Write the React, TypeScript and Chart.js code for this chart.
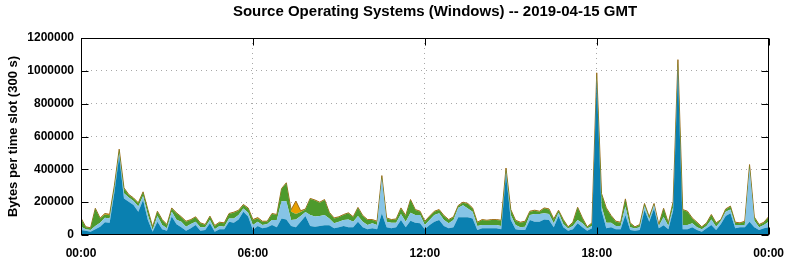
import React, { useEffect, useRef } from 'react';
import { Chart, registerables } from 'chart.js';

Chart.register(...registerables);

const TITLE = 'Source Operating Systems (Windows) -- 2019-04-15 GMT';
const Y_LABEL = 'Bytes per time slot (300 s)';
const X_TICK_HOURS = [0, 6, 12, 18, 24];
const X_TICK_LABELS = ['00:00', '06:00', '12:00', '18:00', '00:00'];
const Y_TICKS = [0, 200000, 400000, 600000, 800000, 1000000, 1200000];
const SLOT_MINUTES = 10;

const darkBlue = [
  30000, 26000, 20000, 35000, 50000, 78000, 75000, 260000, 480000, 223000,
  203000, 183000, 142000, 213000, 91000, 20000, 81000, 35000, 26000, 112000,
  66000, 47000, 26000, 41000, 61000, 26000, 30000, 71000, 20000, 35000,
  35000, 81000, 75000, 95000, 142000, 112000, 30000, 55000, 41000, 47000,
  61000, 47000, 100000, 95000, 55000, 47000, 81000, 115000, 55000, 50000,
  55000, 60000, 60000, 41000, 47000, 55000, 47000, 47000, 81000, 47000,
  35000, 41000, 35000, 132000, 47000, 41000, 47000, 91000, 47000, 87000,
  75000, 71000, 35000, 61000, 81000, 91000, 55000, 41000, 47000, 108000,
  108000, 108000, 101000, 30000, 41000, 41000, 41000, 41000, 35000, 370000,
  91000, 35000, 30000, 30000, 91000, 81000, 81000, 95000, 91000, 47000,
  116000, 47000, 26000, 35000, 71000, 47000, 26000, 41000, 940000, 150000,
  41000, 47000, 35000, 35000, 122000, 30000, 26000, 30000, 152000, 81000,
  162000, 41000, 60000, 35000, 150000, 1000000, 35000, 35000, 47000, 30000,
  20000, 41000, 61000, 30000, 67000, 116000, 132000, 41000, 47000, 47000,
  80000, 47000, 30000, 41000, 47000,
];

const lightBlue = [
  20000, 9000, 10000, 20000, 25000, 27000, 25000, 20000, 20000, 31000,
  26000, 24000, 31000, 24000, 31000, 10000, 35000, 26000, 15000, 30000,
  27000, 34000, 25000, 26000, 20000, 21000, 17000, 20000, 15000, 20000,
  16000, 20000, 26000, 27000, 20000, 24000, 31000, 26000, 20000, 20000,
  30000, 44000, 105000, 110000, 36000, 48000, 35000, 25000, 67000, 62000,
  61000, 62000, 40000, 30000, 34000, 36000, 48000, 34000, 35000, 34000,
  26000, 30000, 26000, 213000, 34000, 34000, 28000, 37000, 34000, 49000,
  47000, 51000, 26000, 30000, 41000, 41000, 36000, 30000, 44000, 58000,
  73000, 54000, 41000, 25000, 20000, 20000, 20000, 20000, 20000, 15000,
  31000, 26000, 17000, 21000, 31000, 47000, 47000, 37000, 37000, 24000,
  20000, 20000, 13000, 20000, 20000, 24000, 13000, 14000, 20000, 25000,
  34000, 28000, 20000, 20000, 51000, 17000, 13000, 17000, 25000, 14000,
  21000, 14000, 50000, 20000, 20000, 30000, 26000, 26000, 24000, 17000,
  15000, 14000, 34000, 21000, 18000, 26000, 24000, 20000, 14000, 14000,
  326000, 40000, 17000, 20000, 34000,
];

const green = [
  50000, 12000, 11000, 105000, 25000, 20000, 20000, 20000, 20000, 30000,
  15000, 16000, 20000, 23000, 30000, 17000, 26000, 30000, 20000, 20000,
  39000, 27000, 30000, 24000, 27000, 24000, 14000, 21000, 20000, 20000,
  20000, 27000, 35000, 26000, 21000, 26000, 30000, 20000, 20000, 14000,
  37000, 31000, 75000, 110000, 51000, 33000, 24000, 15000, 98000, 98000,
  81000, 91000, 35000, 30000, 27000, 31000, 37000, 27000, 49000, 35000,
  30000, 20000, 20000, 14000, 20000, 16000, 20000, 34000, 35000, 77000,
  30000, 20000, 20000, 21000, 20000, 20000, 25000, 20000, 17000, 11000,
  16000, 27000, 20000, 20000, 30000, 26000, 30000, 30000, 32000, 20000,
  30000, 26000, 28000, 30000, 20000, 20000, 14000, 30000, 28000, 24000,
  12000, 24000, 8000, 20000, 75000, 30000, 8000, 16000, 25000, 75000,
  87000, 41000, 26000, 20000, 44000, 24000, 8000, 14000, 12000, 13000,
  6000, 6000, 50000, 16000, 30000, 35000, 91000, 81000, 30000, 28000,
  12000, 16000, 27000, 20000, 6000, 14000, 17000, 14000, 10000, 20000,
  20000, 19000, 14000, 14000, 27000,
];

const orange = [
  3000, 3000, 3000, 3000, 3000, 6000, 6000, 3000, 3000, 3000,
  3000, 3000, 3000, 3000, 3000, 3000, 3000, 3000, 3000, 3000,
  3000, 3000, 3000, 3000, 3000, 3000, 3000, 3000, 3000, 3000,
  3000, 3000, 3000, 3000, 3000, 3000, 3000, 5000, 3000, 3000,
  3000, 3000, 3000, 3000, 12000, 79000, 8000, 3000, 3000, 3000,
  3000, 3000, 3000, 3000, 3000, 3000, 3000, 3000, 3000, 3000,
  3000, 3000, 3000, 3000, 3000, 3000, 3000, 3000, 3000, 3000,
  3000, 3000, 3000, 3000, 3000, 3000, 3000, 3000, 3000, 3000,
  3000, 3000, 3000, 3000, 3000, 3000, 3000, 3000, 3000, 3000,
  3000, 3000, 3000, 3000, 3000, 3000, 3000, 3000, 3000, 3000,
  3000, 3000, 3000, 3000, 3000, 3000, 3000, 3000, 3000, 3000,
  3000, 3000, 3000, 3000, 3000, 3000, 3000, 3000, 3000, 3000,
  3000, 3000, 3000, 3000, 3000, 3000, 3000, 3000, 3000, 3000,
  3000, 3000, 3000, 3000, 3000, 3000, 3000, 3000, 3000, 3000,
  3000, 3000, 3000, 3000, 3000,
];

const SERIES_NAMES = ['Windows 10', 'Windows 7', 'Windows 8', 'Other Windows'];

const FONT_FAMILY = '"Liberation Sans", Arial, Helvetica, sans-serif';

const framePlugin = {
  id: 'gnuplotFrame',
  afterDraw(chart: any) {
    const { ctx, chartArea: a, scales } = chart;
    ctx.save();
    ctx.strokeStyle = '#000';
    ctx.lineWidth = 1;
    const L = Math.round(a.left) + 0.5;
    const R = Math.round(a.right) - 0.5;
    const T = Math.round(a.top) + 0.5;
    const B = Math.round(a.bottom) - 0.5;
    ctx.strokeRect(L, T, R - L, B - T);
    const tl = 7;
    ctx.beginPath();
    for (const v of Y_TICKS) {
      const y = Math.round(scales.y.getPixelForValue(v)) + 0.5;
      ctx.moveTo(L, y); ctx.lineTo(L + tl, y);
      ctx.moveTo(R, y); ctx.lineTo(R - tl, y);
    }
    for (const h of X_TICK_HOURS) {
      const x = Math.round(scales.x.getPixelForValue(h)) + 0.5;
      ctx.moveTo(x, B); ctx.lineTo(x, B - tl);
      ctx.moveTo(x, T); ctx.lineTo(x, T + tl);
    }
    ctx.stroke();

    ctx.fillStyle = '#000';
    ctx.textAlign = 'center';
    ctx.textBaseline = 'middle';
    ctx.font = `bold 15px ${FONT_FAMILY}`;
    ctx.fillText(TITLE, 435, 12);

    ctx.font = `bold 13px ${FONT_FAMILY}`;
    ctx.translate(13, (a.top + a.bottom) / 2);
    ctx.rotate(-Math.PI / 2);
    ctx.fillText(Y_LABEL, 0, 0);
    ctx.restore();
  },
};

export default function App() {
  const canvasRef = useRef<HTMLCanvasElement | null>(null);

  useEffect(() => {
    const canvas = canvasRef.current;
    if (!canvas) return;
    const slotHours = darkBlue.map((_, i) => (i * SLOT_MINUTES) / 60);
    const tickFont = { family: FONT_FAMILY, size: 12, weight: 'bold' as const };
    const gridColor = (edgeValues: number[]) => (c: any) =>
      c.tick && edgeValues.includes(c.tick.value) ? 'rgba(0,0,0,0)' : '#a8a8a8';

    const mk = (label: string, data: number[], color: string, fill: any, border?: string) => ({
      label,
      data,
      backgroundColor: color,
      borderColor: border || color,
      borderWidth: border ? 1 : 0,
      fill,
      pointRadius: 0,
      tension: 0,
    });

    const chart = new Chart(canvas, {
      type: 'line',
      data: {
        labels: slotHours,
        datasets: [
          mk(SERIES_NAMES[0], darkBlue, '#0a80b0', 'origin'),
          mk(SERIES_NAMES[1], lightBlue, '#86c4e6', '-1'),
          mk(SERIES_NAMES[2], green, '#4d9a2c', '-1'),
          mk(SERIES_NAMES[3], orange, '#e8a000', '-1', '#9c6e1e'),
        ],
      },
      options: {
        animation: false,
        responsive: false,
        devicePixelRatio: 1,
        events: [],
        layout: { padding: { top: 38, right: 20, left: 0, bottom: 0 } },
        plugins: {
          legend: { display: false },
          tooltip: { enabled: false },
          title: { display: false },
        },
        scales: {
          x: {
            type: 'linear',
            min: 0,
            max: 24,
            afterBuildTicks: (s: any) => {
              s.ticks = X_TICK_HOURS.map((v) => ({ value: v }));
            },
            afterFit: (s: any) => {
              s.height = 25;
            },
            ticks: {
              autoSkip: false,
              maxRotation: 0,
              padding: 11,
              color: '#000',
              font: tickFont,
              callback: (v: any) => {
                const idx = X_TICK_HOURS.indexOf(Number(v));
                return idx >= 0 ? X_TICK_LABELS[idx] : '';
              },
            },
            grid: { color: gridColor([0, 24]), drawTicks: false, lineWidth: 1 },
            border: { display: false, dash: [1, 4] },
          },
          y: {
            stacked: true,
            min: 0,
            max: 1200000,
            afterBuildTicks: (s: any) => {
              s.ticks = Y_TICKS.map((v) => ({ value: v }));
            },
            afterFit: (s: any) => {
              s.width = 81;
            },
            ticks: {
              padding: 7,
              color: '#000',
              font: tickFont,
              callback: (v: any) => String(v),
            },
            grid: { color: gridColor([0, 1200000]), drawTicks: false, lineWidth: 1 },
            border: { display: false, dash: [1, 4] },
          },
        },
      },
      plugins: [framePlugin],
    });
    return () => chart.destroy();
  }, []);

  return (
    <div style={{ position: 'fixed', left: 0, top: 0, width: 795, height: 260, background: '#fff' }}>
      <canvas ref={canvasRef} width={795} height={260} style={{ display: 'block' }} />
    </div>
  );
}
